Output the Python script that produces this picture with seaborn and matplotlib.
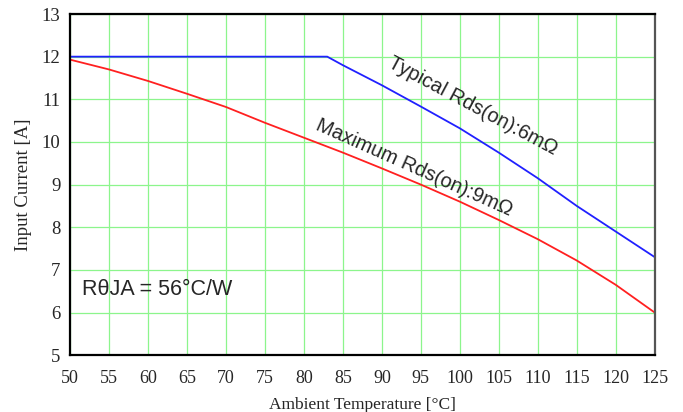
import numpy as np
import pandas as pd
import matplotlib
matplotlib.use("Agg")
import matplotlib.pyplot as plt
import seaborn as sns

# ambient temperature [C]
temp_typ = [50, 83, 85, 90, 95, 100, 105, 110, 115, 120, 125]
current_typ = [12.0, 12.0, 11.8, 11.33, 10.83, 10.32, 9.75, 9.15, 8.5, 7.9, 7.3]

temp_max = [50, 55, 60, 65, 70, 75, 80, 85, 90, 95, 100, 105, 110, 115, 120, 125]
current_max = [11.93, 11.7, 11.43, 11.13, 10.82, 10.45, 10.1, 9.75, 9.38, 9.0,
               8.6, 8.17, 7.72, 7.22, 6.65, 6.0]

x_ticks = list(range(50, 126, 5))
y_ticks = list(range(5, 14))

sns.set_style("white")
plt.rcParams["font.family"] = ["Liberation Serif", "DejaVu Serif"]

df_typ = pd.DataFrame({"temp": temp_typ, "current": current_typ})
df_max = pd.DataFrame({"temp": temp_max, "current": current_max})

fig = plt.figure(figsize=(6.83, 4.12), dpi=100)
ax = fig.add_axes([0.1025, 0.138, 0.856, 0.828])

sns.lineplot(data=df_typ, x="temp", y="current", color="#2020ff", linewidth=1.3, ax=ax)
sns.lineplot(data=df_max, x="temp", y="current", color="#ff2020", linewidth=1.3, ax=ax)

ax.set_xlim(50, 125)
ax.set_ylim(5, 13)
ax.set_xticks(x_ticks)
ax.set_yticks(y_ticks)
ax.grid(True, color="#8cf58c", linewidth=0.9)
ax.set_axisbelow(True)
ax.tick_params(axis="x", length=0, labelsize=13, pad=11)
ax.tick_params(axis="y", length=0, labelsize=13.5, pad=7)
for s in ax.spines.values():
    s.set_color("black")
    s.set_linewidth(1.6)
ax.spines["right"].set_color("#555555")

ax.set_xlabel("Ambient Temperature [\u00b0C]", fontsize=12.5, labelpad=7)
ax.set_ylabel("Input Current [A]", fontsize=13.5, labelpad=7)

sans = ["Liberation Sans", "DejaVu Sans"]
ax.text(101.7, 10.85, "Typical Rds(on):6m\u03a9", rotation=-28, ha="center", va="center",
        fontsize=14.5, family=sans)
ax.text(94.2, 9.4, "Maximum Rds(on):9m\u03a9", rotation=-24, ha="center", va="center",
        fontsize=14.5, family=sans)
ax.text(51.6, 6.53, "R\u03b8JA = 56\u00b0C/W", ha="left", va="center", fontsize=15.5, family=sans)

fig.savefig("out.png", dpi=100)
